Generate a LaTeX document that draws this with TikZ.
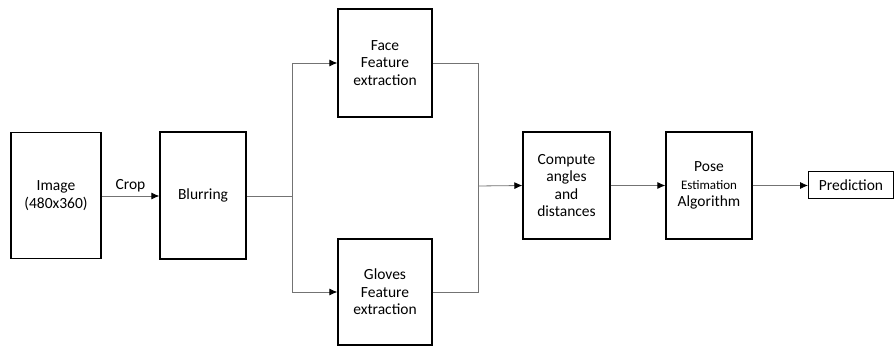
\documentclass[tikz,border=0pt]{standalone}
\usepackage{fontspec}
\setmainfont{Carlito}
\usetikzlibrary{arrows.meta}
\begin{document}
\begin{tikzpicture}[x=1pt,y=-1pt,
  box/.style={draw=black,line width=1.3pt,align=center,inner sep=0pt,
    font=\fontsize{15.5}{17.5}\selectfont},
  link/.style={draw=black!55,line width=0.8pt},
  arr/.style={link,-{Latex[length=8pt,width=7pt,color=black]}}]
  \useasboundingbox[fill=white] (0,0) rectangle (894,347);
  % processing blocks
  \node[box,minimum width=90pt,minimum height=126pt] (img) at (56,195.5) {Image\\(480x360)};
  \node[box,minimum width=86pt,minimum height=127pt] (blur) at (203,195.5) {Blurring};
  \node[box,minimum width=94pt,minimum height=108pt] (face) at (385,63) {Face\\Feature\\extraction};
  \node[box,minimum width=94pt,minimum height=106pt] (glove) at (385,292) {Gloves\\Feature\\extraction};
  \node[box,minimum width=87pt,minimum height=107pt] (comp) at (566.5,185.5) {Compute\\angles\\and\\distances};
  \node[box,minimum width=86pt,minimum height=107pt] (pose) at (709,185.5) {Pose\\{\fontsize{13}{17.5}\selectfont Estimation}\\Algorithm};
  \node[box,line width=1pt,minimum width=85pt,minimum height=27pt,anchor=west] (pred) at (808,185.5) {Prediction};
  % branching points
  \coordinate (split) at (292,196);
  \coordinate (merge) at (478,186);
  % connectors
  \draw[arr] (img.east |- 0,196) -- node[above=0pt,font=\fontsize{15.5}{17}\selectfont,text=black] {Crop} (blur.west |- 0,196);
  \draw[link] (blur.east |- split) -- (split);
  \draw[arr] (split) |- (face.west);
  \draw[arr] (split) |- (glove.west);
  \draw[link] (face.east) -| (merge);
  \draw[link] (glove.east) -| (merge);
  \draw[arr] (merge) -- (comp.west);
  \draw[arr] (comp.east) -- (pose.west);
  \draw[arr] (pose.east) -- (pred.west);
\end{tikzpicture}
\end{document}
